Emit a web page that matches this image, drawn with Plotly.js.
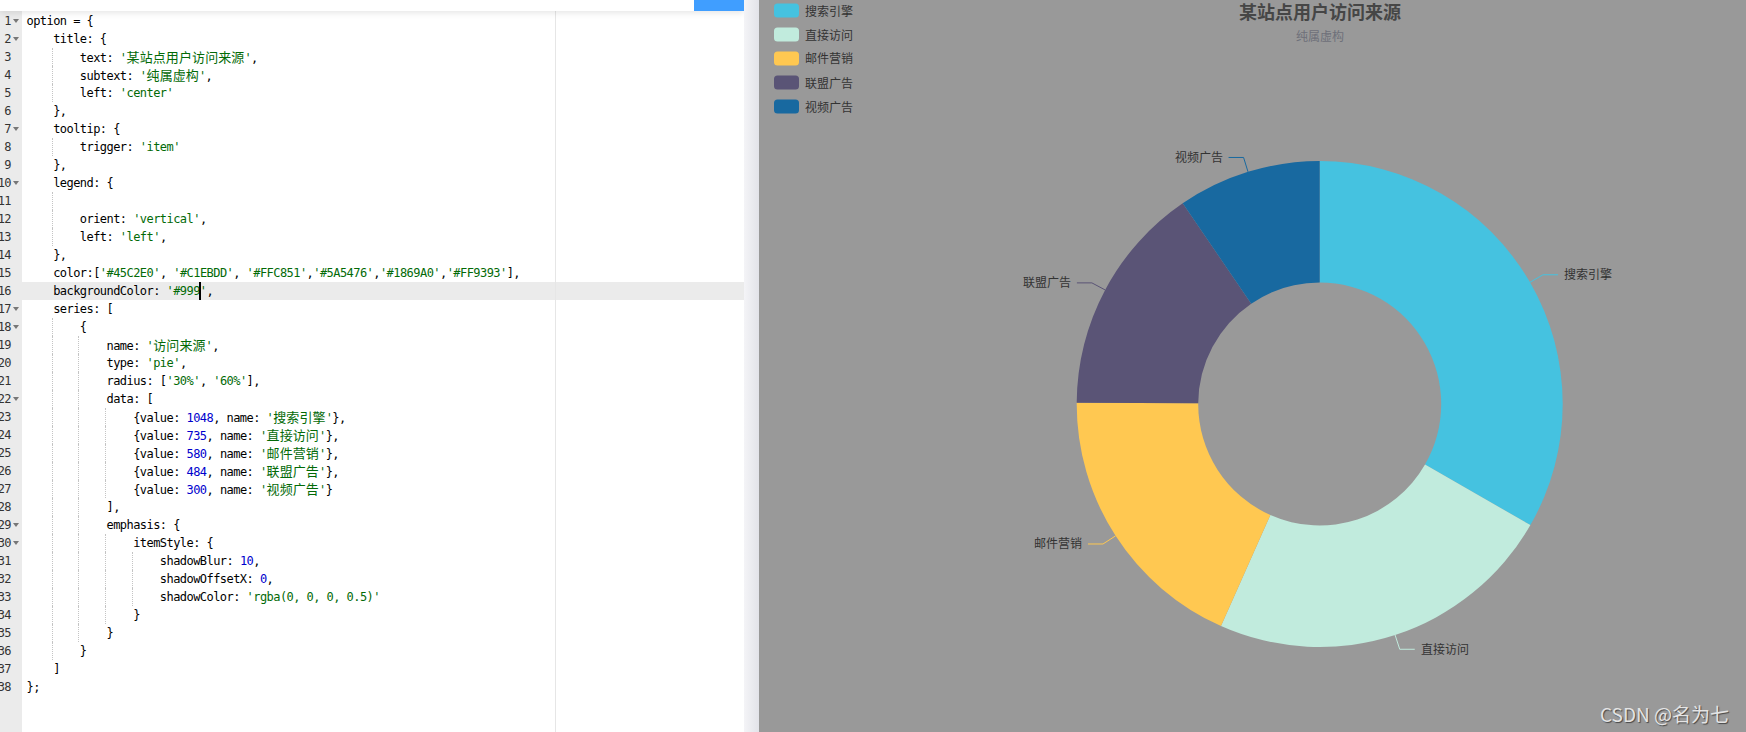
<!DOCTYPE html>
<html>
<head>
<meta charset="utf-8">
<script src="https://cdn.plot.ly/plotly-3.0.1.min.js"></script>
<style>
html,body{margin:0;padding:0;width:1746px;height:732px;overflow:hidden;background:#fff;}
#editor{position:absolute;left:0;top:0;width:744px;height:732px;background:#fff;overflow:hidden;}
#gutter{position:absolute;left:0;top:0;width:22px;height:732px;background:#ebebeb;overflow:hidden;}
.ln{position:absolute;left:-20px;width:31px;height:18px;line-height:18px;text-align:right;
  font-family:"DejaVu Sans Mono",monospace;font-size:12px;letter-spacing:-0.557px;color:#333;}
.fold{position:absolute;left:13px;width:0;height:0;border-left:3px solid transparent;border-right:3px solid transparent;border-top:4px solid #777;}
.line{position:absolute;left:22px;width:722px;height:18px;}
.line.active{background:#ebebeb;}
.code{position:absolute;left:4.5px;top:0;height:18px;line-height:18px;white-space:pre;
  font-family:"DejaVu Sans Mono",monospace;font-size:12px;letter-spacing:-0.557px;color:#000;}
.str{color:#036A07;}
.num{color:#0000CD;}
.cjk{font-family:"Noto Sans CJK SC",sans-serif;font-size:13px;letter-spacing:0.1px;}
.guide{position:absolute;top:0;height:18px;width:0;border-left:1px dotted #c4c4c4;}
#margin{position:absolute;left:555px;top:11px;width:0;height:721px;border-left:1px solid #e6e6e6;}
#cursor{position:absolute;width:2px;height:18px;background:#000;}
#topbar{position:absolute;left:0;top:0;width:744px;height:11px;background:#fff;box-shadow:0 2px 6px rgba(0,0,0,0.10);z-index:5;}
#btn{position:absolute;left:694px;top:0;width:50px;height:11px;background:#409EFF;}
#strip{position:absolute;left:744px;top:0;width:15px;height:732px;background:linear-gradient(to right,#f4f4f7,#e2e3e9);z-index:6;}
#chart{position:absolute;left:759px;top:0;width:987px;height:732px;}
</style>
</head>
<body>
<div id="editor">
  <div id="gutter"></div>
  <div id="lines"></div>
  <div id="margin"></div>
</div>
<div id="topbar"><div id="btn"></div></div>
<div id="strip"></div>
<div id="chart"></div>
<script>
// ---------- data ----------
const categories = ['搜索引擎', '直接访问', '邮件营销', '联盟广告', '视频广告'];
const values = [1048, 735, 580, 484, 300];
const colors = ['#45C2E0', '#C1EBDD', '#FFC851', '#5A5476', '#1869A0', '#FF9393'];
const chartTitle = '某站点用户访问来源';
const chartSubtitle = '纯属虚构';
const seriesName = '访问来源';
const bgColor = '#999';
const watermark = 'CSDN @名为七';

// ---------- code editor text ----------
const dataLines = categories.map((c, i) =>
  "                {value: " + values[i] + ", name: '" + c + "'}" + (i < categories.length - 1 ? "," : ""));
const codeLines = [
  "option = {",
  "    title: {",
  "        text: '" + chartTitle + "',",
  "        subtext: '" + chartSubtitle + "',",
  "        left: 'center'",
  "    },",
  "    tooltip: {",
  "        trigger: 'item'",
  "    },",
  "    legend: {",
  "        ",
  "        orient: 'vertical',",
  "        left: 'left',",
  "    },",
  "    color:['" + colors[0] + "', '" + colors[1] + "', '" + colors[2] + "','" + colors[3] + "','" + colors[4] + "','" + colors[5] + "'],",
  "    backgroundColor: '" + bgColor + "',",
  "    series: [",
  "        {",
  "            name: '" + seriesName + "',",
  "            type: 'pie',",
  "            radius: ['30%', '60%'],",
  "            data: ["
].concat(dataLines, [
  "            ],",
  "            emphasis: {",
  "                itemStyle: {",
  "                    shadowBlur: 10,",
  "                    shadowOffsetX: 0,",
  "                    shadowColor: 'rgba(0, 0, 0, 0.5)'",
  "                }",
  "            }",
  "        }",
  "    ]",
  "};"
]);
const foldLines = [1, 2, 7, 10, 17, 18, 22, 29, 30];
const activeLine = 16;

function esc(s){return s.replace(/&/g,'&amp;').replace(/</g,'&lt;').replace(/>/g,'&gt;');}
function wrapCJK(s){return esc(s).replace(/([\u3000-\u9fff\uff00-\uffef]+)/g,'<span class="cjk">$1</span>');}
function highlight(line){
  let out = '', i = 0;
  while (i < line.length) {
    const ch = line[i];
    if (ch === "'") {
      let j = line.indexOf("'", i + 1);
      if (j < 0) j = line.length - 1;
      out += '<span class="str">' + wrapCJK(line.slice(i, j + 1)) + '</span>';
      i = j + 1;
    } else if (/[0-9]/.test(ch) && !/[A-Za-z_]/.test(line[i - 1] || '')) {
      const m = line.slice(i).match(/^[0-9.]+/)[0];
      out += '<span class="num">' + m + '</span>';
      i += m.length;
    } else {
      out += esc(ch);
      i += 1;
    }
  }
  return out;
}

const CW = 6.667, LH = 18, TOP0 = 11.7, CODE_X = 26.5;
const gutter = document.getElementById('gutter');
const linesEl = document.getElementById('lines');
codeLines.forEach((ln, idx) => {
  const n = idx + 1, top = TOP0 + idx * LH;
  const g = document.createElement('div');
  g.className = 'ln'; g.style.top = top + 'px'; g.textContent = n;
  gutter.appendChild(g);
  if (foldLines.indexOf(n) >= 0) {
    const f = document.createElement('div');
    f.className = 'fold'; f.style.top = (top + 7) + 'px';
    gutter.appendChild(f);
  }
  const d = document.createElement('div');
  d.className = 'line' + (n === activeLine ? ' active' : '');
  d.style.top = top + 'px';
  const lead = ln.match(/^ */)[0].length;
  const levels = Math.floor(lead / 4);
  for (let k = 1; k < levels; k++) {
    const gd = document.createElement('div');
    gd.className = 'guide';
    gd.style.left = (CODE_X - 22 + k * 4 * CW - 1.5) + 'px';
    d.appendChild(gd);
  }
  const c = document.createElement('div');
  c.className = 'code'; c.innerHTML = highlight(ln);
  d.appendChild(c);
  if (n === activeLine) {
    const cur = document.createElement('div');
    cur.id = 'cursor';
    const col = ln.indexOf(bgColor) + bgColor.length;
    cur.style.left = (CODE_X - 22 + col * CW - 0.5) + 'px';
    cur.style.top = '0px';
    d.appendChild(cur);
  }
  linesEl.appendChild(d);
});

// ---------- chart ----------
const W = 987, H = 732, CX = 560.7, CY = 404, R = 243;
const px = p => p / W, py = p => 1 - p / H;
const total = values.reduce((a, b) => a + b, 0);
const FONT = '"Noto Sans CJK SC", "Microsoft YaHei", sans-serif';
const shapes = [], annotations = [];
let cum = 0;
values.forEach((v, i) => {
  const mid = (cum + v / 2) / total * 2 * Math.PI; cum += v;
  const s = Math.sin(mid), c = Math.cos(mid);
  const x0 = CX + R * s, y0 = CY - R * c;
  const x1 = CX + (R + 15) * s, y1 = CY - (R + 15) * c;
  const sg = s >= 0 ? 1 : -1;
  const x2 = x1 + sg * 15;
  shapes.push({type: 'path', xref: 'paper', yref: 'paper',
    path: 'M' + px(x0) + ',' + py(y0) + ' L' + px(x1) + ',' + py(y1) + ' L' + px(x2) + ',' + py(y1),
    line: {color: colors[i], width: 1}});
  annotations.push({xref: 'paper', yref: 'paper', x: px(x2 + sg * 5), y: py(y1 - 1),
    text: categories[i], showarrow: false, xanchor: sg > 0 ? 'left' : 'right', yanchor: 'middle',
    borderpad: 0, font: {family: FONT, size: 12, color: '#333'}});
});

// legend (roundRect icons)
categories.forEach((cat, i) => {
  const l = 15, r = 40, t = 3.5 + i * 24, b = t + 14, rr = 3.5;
  const P = (x, y) => px(x) + ',' + py(y);
  const path = 'M' + P(l + rr, t) + ' L' + P(r - rr, t) + ' Q' + P(r, t) + ' ' + P(r, t + rr) +
    ' L' + P(r, b - rr) + ' Q' + P(r, b) + ' ' + P(r - rr, b) +
    ' L' + P(l + rr, b) + ' Q' + P(l, b) + ' ' + P(l, b - rr) +
    ' L' + P(l, t + rr) + ' Q' + P(l, t) + ' ' + P(l + rr, t) + ' Z';
  shapes.push({type: 'path', xref: 'paper', yref: 'paper', path: path,
    fillcolor: colors[i], line: {width: 0}});
  annotations.push({xref: 'paper', yref: 'paper', x: px(45), y: py(t + 6.5), text: cat,
    showarrow: false, xanchor: 'left', yanchor: 'middle', borderpad: 0,
    font: {family: FONT, size: 12, color: '#333'}});
});

// title & subtitle
annotations.push({xref: 'paper', yref: 'paper', x: px(CX), y: py(10.5), text: '<b>' + chartTitle + '</b>',
  showarrow: false, xanchor: 'center', yanchor: 'middle', borderpad: 0,
  font: {family: FONT, size: 18, color: '#464646'}});
annotations.push({xref: 'paper', yref: 'paper', x: px(CX), y: py(35.5), text: chartSubtitle,
  showarrow: false, xanchor: 'center', yanchor: 'middle', borderpad: 0,
  font: {family: FONT, size: 12, color: '#6E7079'}});
// watermark
annotations.push({xref: 'paper', yref: 'paper', x: px(971), y: py(713), text: watermark,
  showarrow: false, xanchor: 'right', yanchor: 'middle', borderpad: 0,
  font: {family: FONT, size: 19, color: '#e4e4e4', shadow: '1px 1px 1px rgba(0,0,0,0.55)'}});

const trace = {
  type: 'pie',
  name: seriesName,
  labels: categories,
  values: values,
  marker: {colors: colors.slice(0, values.length), line: {width: 0}},
  hole: 0.5,
  sort: false,
  direction: 'clockwise',
  rotation: 0,
  textinfo: 'none',
  hovertemplate: '%{label}: %{value} (%{percent})<extra>' + seriesName + '</extra>',
  domain: {x: [px(CX - R), px(CX + R)], y: [py(CY + R), py(CY - R)]}
};

Plotly.newPlot('chart', [trace], {
  width: W, height: H,
  margin: {l: 0, r: 0, t: 0, b: 0},
  paper_bgcolor: bgColor,
  plot_bgcolor: bgColor,
  showlegend: false,
  shapes: shapes,
  annotations: annotations
}, {displayModeBar: false});
</script>
</body>
</html>
